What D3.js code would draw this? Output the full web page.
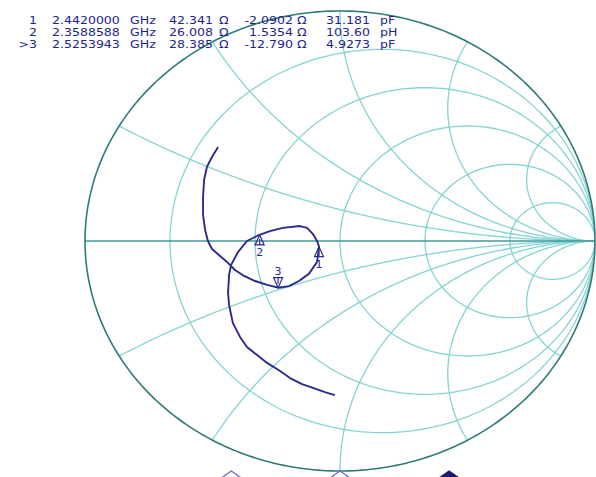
<!DOCTYPE html>
<html><head><meta charset="utf-8">
<script src="https://cdn.jsdelivr.net/npm/d3@7"></script>
<style>html,body{margin:0;padding:0;background:#fff}svg{display:block}</style>
</head><body>
<svg id="chart" width="596" height="477"></svg>
<script>
// Marker readout table
const markerIds = ["1", "2", ">3"];
const markerFreqGHz = [2.4420000, 2.3588588, 2.5253943];
const markerR = [42.341, 26.008, 28.385];      // ohms
const markerX = [-2.0902, 1.5354, -12.790];    // ohms
const markerLC = ["31.181", "103.60", "4.9273"];
const markerLCUnit = ["pF", "pH", "pF"];
const activeMarker = 2;
const z0 = 50;

// Trace as reflection coefficient, low to high frequency
const traceRe = [-0.020, -0.059, -0.106, -0.149, -0.196, -0.235, -0.286, -0.325, -0.365, -0.392,
  -0.420, -0.435, -0.439, -0.435, -0.427, -0.400, -0.365, -0.318, -0.275, -0.224,
  -0.157, -0.129, -0.106, -0.090, -0.082, -0.090, -0.122, -0.161, -0.200, -0.243,
  -0.286, -0.333, -0.376, -0.412, -0.443, -0.475, -0.502, -0.518, -0.529, -0.537,
  -0.537, -0.533, -0.522, -0.502, -0.478];
const traceIm = [-0.670, -0.657, -0.639, -0.622, -0.596, -0.565, -0.530, -0.496, -0.461, -0.417,
  -0.357, -0.278, -0.226, -0.148, -0.104, -0.048, 0.000, 0.026, 0.043, 0.057,
  0.065, 0.057, 0.030, 0.000, -0.025, -0.091, -0.143, -0.174, -0.196, -0.203,
  -0.191, -0.174, -0.152, -0.126, -0.091, -0.061, -0.035, 0.000, 0.048, 0.113,
  0.191, 0.265, 0.322, 0.365, 0.409];

// Grid values (normalized)
const gridResistance = [0.2, 0.5, 1, 2, 5];
const gridReactance = [0.268, 0.577, 1, 1.732, 3.732];

// Stimulus span shown along the bottom edge
const stimStartGHz = 2.247, stimStopGHz = 2.637;

const svg = d3.select("#chart");
svg.append("rect").attr("width", 596).attr("height", 477).attr("fill", "#fff");

const gx = d3.scaleLinear().domain([-1, 1]).range([85, 595]);
const gy = d3.scaleLinear().domain([-1, 1]).range([471, 11]);
const fx = d3.scaleLinear().domain([stimStartGHz, stimStopGHz]).range([85, 595]);

const line = d3.line().x(d => gx(d[0])).y(d => gy(d[1]));

// reflection coefficient of a normalized impedance r + jx
function gammaOf(r, x) {
  const dr = r + 1, nr = r - 1;
  const den = dr * dr + x * x;
  return [(nr * dr + x * x) / den, (x * dr - nr * x) / den];
}

svg.append("clipPath").attr("id", "disk")
  .append("ellipse")
  .attr("cx", gx(0)).attr("cy", gy(0))
  .attr("rx", gx(1) - gx(0)).attr("ry", gy(-1) - gy(0));

const grid = svg.append("g").attr("clip-path", "url(#disk)")
  .attr("fill", "none").attr("stroke", "#86d3d3").attr("stroke-width", 1.3);

// constant-resistance circles
gridResistance.forEach(r => {
  const c = r / (1 + r), rad = 1 / (1 + r);
  const pts = d3.range(0, 361, 2).map(a => {
    const t = a * Math.PI / 180;
    return [c + rad * Math.cos(t), rad * Math.sin(t)];
  });
  grid.append("path").attr("d", line(pts));
});

// constant-reactance arcs
gridReactance.forEach(x => {
  [x, -x].forEach(xx => {
    const pts = d3.range(0, 400).map(i => {
      const r = Math.tan(i / 400 * Math.PI / 2);
      return gammaOf(r, xx);
    });
    pts.push([1, 0]);
    grid.append("path").attr("d", line(pts));
  });
});

// real axis
svg.append("line")
  .attr("x1", gx(-1)).attr("x2", gx(1)).attr("y1", gy(0)).attr("y2", gy(0))
  .attr("stroke", "#3e9898").attr("stroke-width", 1.5);

// outer boundary |Γ| = 1
svg.append("path")
  .attr("d", line(d3.range(0, 361, 1).map(a => [Math.cos(a * Math.PI / 180), Math.sin(a * Math.PI / 180)])))
  .attr("fill", "none").attr("stroke", "#2f7a7a").attr("stroke-width", 1.6);

// trace
const traceCol = "#2a2a8c";
svg.append("path")
  .attr("d", line(traceRe.map((v, i) => [v, traceIm[i]])))
  .attr("fill", "none").attr("stroke", traceCol).attr("stroke-width", 1.9)
  .attr("stroke-linejoin", "round");

// markers on the trace
markerIds.forEach((id, i) => {
  const g = gammaOf(markerR[i] / z0, markerX[i] / z0);
  const px = gx(g[0]), py = gy(g[1]);
  const lab = id.replace(">", "");
  const mg = svg.append("g").attr("stroke", traceCol).attr("fill", "none").attr("stroke-width", 1.2);
  const up = i === activeMarker;
  const s = up ? -1 : 1;
  mg.append("path").attr("d", `M${px},${py}L${px - 4.5},${py + s * 10}L${px + 4.5},${py + s * 10}Z`);
  mg.append("line").attr("x1", px).attr("x2", px).attr("y1", py + s * 4).attr("y2", py + s * 10);
  svg.append("text").attr("x", px).attr("y", up ? py - 13 : py + 21).attr("text-anchor", "middle")
    .attr("font-family", "DejaVu Sans, Verdana, sans-serif").attr("font-size", 11)
    .attr("fill", traceCol).text(lab);
});

// stimulus position indicators along the bottom edge
markerIds.forEach((id, i) => {
  const x = fx(markerFreqGHz[i]);
  const active = i === activeMarker;
  svg.append("path")
    .attr("d", `M${x},471L${x + 10},478L${x},485L${x - 10},478Z`)
    .attr("fill", active ? "#1c1a70" : "#fff")
    .attr("stroke", active ? "#1c1a70" : "#7468c8").attr("stroke-width", 1.3);
});

// readout text
const fmt5 = v => d3.format(".5g")(v).replace("\u2212", "-");
const txtCol = "#23238f";
const rowY = [24, 36, 48];
const rows = svg.append("g").attr("font-family", "DejaVu Sans, Verdana, sans-serif")
  .attr("font-size", 10.3).attr("fill", txtCol);
markerIds.forEach((id, i) => {
  const y = rowY[i];
  const cell = (x, s, anchor) => rows.append("text")
    .attr("transform", `translate(${x},${y}) scale(1.22,1)`)
    .attr("text-anchor", anchor || "start").text(s);
  cell(37, id, "end");
  cell(52, markerFreqGHz[i].toFixed(7));
  cell(130, "GHz");
  cell(213, fmt5(markerR[i]), "end");
  cell(219, "Ω");
  cell(293, fmt5(markerX[i]), "end");
  cell(297, "Ω");
  cell(326, markerLC[i]);
  cell(380, markerLCUnit[i]);
});
</script>
</body></html>
